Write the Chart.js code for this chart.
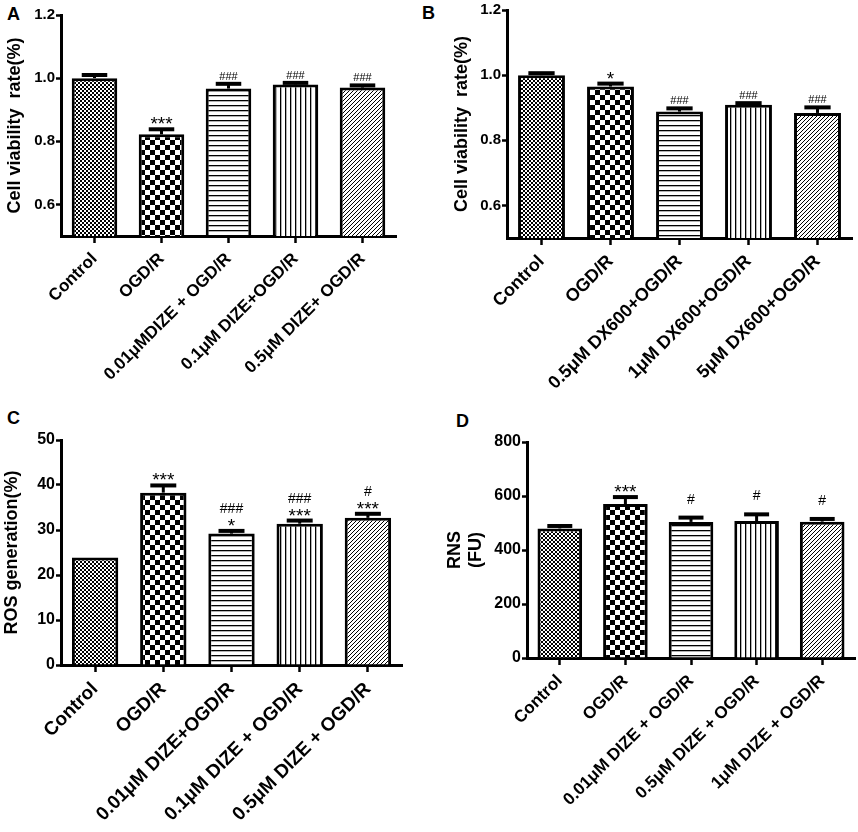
<!DOCTYPE html>
<html>
<head>
<meta charset="utf-8">
<script src="https://cdn.jsdelivr.net/npm/chart.js@4.4.1/dist/chart.umd.min.js"></script>
<style>
    body { margin: 0; background: #fff; width: 858px; height: 832px; position: relative; overflow: hidden; }
    .panel { position: absolute; }
    .letter { position: absolute; font: bold 18px "Liberation Sans", Arial, sans-serif; line-height: 1; color: #000; }
</style>
</head>
<body>
<div class="letter" style="left:7px;top:5px">A</div>
<div class="letter" style="left:422px;top:4px">B</div>
<div class="letter" style="left:7px;top:409px">C</div>
<div class="letter" style="left:456px;top:412px">D</div>

<canvas id="chartA" class="panel" style="left:0;top:0" width="410" height="415"></canvas>
<canvas id="chartB" class="panel" style="left:425px;top:0" width="433" height="415"></canvas>
<canvas id="chartC" class="panel" style="left:0;top:425px" width="415" height="407"></canvas>
<canvas id="chartD" class="panel" style="left:425px;top:425px" width="433" height="407"></canvas>

<script>
// Panel A - DIZE, cell viability
const labelsA = ['Control', 'OGD/R', '0.01μMDIZE + OGD/R', '0.1μM DIZE+OGD/R', '0.5μM DIZE+ OGD/R'];
const valuesA = [1.0, 0.822, 0.967, 0.980, 0.970];
const semA = [0.010, 0.016, 0.015, 0.005, 0.007];
const marksA = [[], ['***'], ['###'], ['###'], ['###']];
const ticksA = [0.6, 0.8, 1.0, 1.2];

// Panel B - DX600, cell viability
const labelsB = ['Control', 'OGD/R', '0.5μM DX600+OGD/R', '1μM DX600+OGD/R', '5μM DX600+OGD/R'];
const valuesB = [1.0, 0.965, 0.888, 0.909, 0.884];
const semB = [0.006, 0.009, 0.010, 0.005, 0.017];
const marksB = [[], ['*'], ['###'], ['###'], ['###']];
const ticksB = [0.6, 0.8, 1.0, 1.2];

// Panel C - ROS generation
const labelsC = ['Control', 'OGD/R', '0.01μM DIZE+OGD/R', '0.1μM DIZE + OGD/R', '0.5μM DIZE + OGD/R'];
const valuesC = [23.9, 38.3, 29.2, 31.4, 32.7];
const semC = [0, 1.6, 0.6, 0.7, 0.9];
const marksC = [[], ['***'], ['###', '*'], ['###', '***'], ['#', '***']];
const ticksC = [0, 10, 20, 30, 40, 50];

// Panel D - RNS
const labelsD = ['Control', 'OGD/R', '0.01μM DIZE + OGD/R', '0.5μM DIZE + OGD/R', '1μM DIZE + OGD/R'];
const valuesD = [480, 570, 504, 507, 505];
const semD = [9, 26, 16, 25, 10];
const marksD = [[], ['***'], ['#'], ['#'], ['#']];
const ticksD = [0, 200, 400, 600, 800];

const FONT = '"Liberation Sans", Arial, sans-serif';

// fill patterns, one per group
function makePattern(size, draw) {
    const c = document.createElement('canvas');
    c.width = size;
    c.height = size;
    const g = c.getContext('2d');
    g.fillStyle = '#fff';
    g.fillRect(0, 0, size, size);
    g.fillStyle = '#000';
    g.strokeStyle = '#000';
    draw(g, size);
    return g.createPattern(c, 'repeat');
}

const patterns = [
    makePattern(4, (g) => { g.fillRect(0, 0, 2, 2); g.fillRect(2, 2, 2, 2); }),
    makePattern(10, (g) => { g.fillRect(0, 0, 5, 5); g.fillRect(5, 5, 5, 5); }),
    makePattern(5, (g) => { g.fillRect(0, 0, 5, 1.3); }),
    makePattern(5, (g) => { g.fillRect(0, 0, 1.3, 5); }),
    makePattern(4, (g, s) => {
        g.lineWidth = 1;
        g.beginPath();
        g.moveTo(0, s); g.lineTo(s, 0);
        g.moveTo(-1, 1); g.lineTo(1, -1);
        g.moveTo(s - 1, s + 1); g.lineTo(s + 1, s - 1);
        g.stroke();
    })
];

// error bars (upper only) and significance marks
const errorBarPlugin = {
    id: 'errorBars',
    afterDatasetsDraw(chart) {
        const cfg = chart.options.plugins.errorBars;
        const ctx = chart.ctx;
        const yScale = chart.scales.y;
        const meta = chart.getDatasetMeta(0);
        const values = chart.data.datasets[0].data;
        ctx.save();
        ctx.strokeStyle = '#000';
        ctx.fillStyle = '#000';
        meta.data.forEach((bar, i) => {
            const top = yScale.getPixelForValue(values[i] + cfg.sem[i]);
            const half = bar.width * 0.28;
            if (cfg.sem[i] > 0) {
                ctx.lineWidth = 3;
                ctx.beginPath();
                ctx.moveTo(bar.x, bar.y);
                ctx.lineTo(bar.x, top);
                ctx.stroke();
                ctx.lineWidth = 4;
                ctx.beginPath();
                ctx.moveTo(bar.x - half, top);
                ctx.lineTo(bar.x + half, top);
                ctx.stroke();
            }
            const lines = cfg.marks[i];
            let y = top - 2;
            for (let k = lines.length - 1; k >= 0; k--) {
                const txt = lines[k];
                const isHash = txt.indexOf('#') >= 0;
                ctx.font = (isHash ? cfg.hashSize : cfg.starSize) + 'px ' + FONT;
                ctx.textAlign = 'center';
                ctx.textBaseline = 'alphabetic';
                const base = isHash ? y - cfg.hashGap : y + 3;
                ctx.fillText(txt, bar.x, base);
                y = base - cfg.lineGap + (isHash ? 0 : 3);
            }
        });
        ctx.restore();
    }
};

function makeChart(id, opts) {
    const ctx = document.getElementById(id).getContext('2d');
    return new Chart(ctx, {
        type: 'bar',
        data: {
            labels: opts.labels,
            datasets: [{
                data: opts.values,
                backgroundColor: patterns,
                borderColor: '#000',
                borderWidth: 3,
                barPercentage: 0.68,
                categoryPercentage: 1,
                base: opts.min
            }]
        },
        options: {
            responsive: false,
            animation: false,
            layout: { padding: { top: opts.padTop, right: opts.padRight, left: 0, bottom: 0 } },
            plugins: {
                legend: { display: false },
                tooltip: { enabled: false },
                errorBars: {
                    sem: opts.sem,
                    marks: opts.marks,
                    starSize: opts.starSize,
                    hashSize: opts.hashSize,
                    hashGap: opts.hashGap,
                    lineGap: opts.lineGap
                }
            },
            scales: {
                x: {
                    grid: { display: true, drawOnChartArea: false, drawTicks: true, tickLength: 7, tickWidth: 2.5, tickColor: '#000', offset: false },
                    border: { display: true, color: '#000', width: 3 },
                    ticks: {
                        color: '#000',
                        font: { family: FONT, size: opts.labelSize, weight: 'bold' },
                        maxRotation: 45,
                        minRotation: 45,
                        autoSkip: false,
                        padding: 6
                    },
                    afterFit: (s) => { s.height = opts.xHeight; }
                },
                y: {
                    min: opts.min,
                    max: opts.max,
                    grid: { display: true, drawOnChartArea: false, drawTicks: true, tickLength: 5, tickWidth: 2.5, tickColor: '#000' },
                    border: { display: true, color: '#000', width: 3 },
                    ticks: {
                        color: '#000',
                        font: { family: FONT, size: opts.tickSize, weight: 'bold' },
                        padding: 1,
                        callback: opts.format
                    },
                    afterBuildTicks: (s) => { s.ticks = opts.ticks.map(v => ({ value: v })); },
                    title: {
                        display: true,
                        text: opts.title,
                        color: '#000',
                        font: { family: FONT, size: 18, weight: 'bold', lineHeight: 1.2 },
                        padding: { top: opts.titlePad, bottom: 0 }
                    },
                    afterFit: (s) => { s.width = opts.yWidth; }
                }
            }
        },
        plugins: [errorBarPlugin]
    });
}

makeChart('chartA', {
    labels: labelsA, values: valuesA, sem: semA, marks: marksA, ticks: ticksA,
    min: 0.5, max: 1.2, format: (v) => v.toFixed(1),
    title: 'Cell viability  rate(%)', titlePad: 4,
    yWidth: 61, xHeight: 179, padTop: 15, padRight: 14,
    labelSize: 17, tickSize: 15, starSize: 19, hashSize: 11, hashGap: 2, lineGap: 18
});

makeChart('chartB', {
    labels: labelsB, values: valuesB, sem: semB, marks: marksB, ticks: ticksB,
    min: 0.5, max: 1.2, format: (v) => v.toFixed(1),
    title: 'Cell viability  rate(%)', titlePad: 26,
    yWidth: 82, xHeight: 177, padTop: 9, padRight: 6,
    labelSize: 18, tickSize: 15, starSize: 19, hashSize: 11, hashGap: 2, lineGap: 18
});

makeChart('chartC', {
    labels: labelsC, values: valuesC, sem: semC, marks: marksC, ticks: ticksC,
    min: 0, max: 50, format: (v) => String(v),
    title: 'ROS generation(%)', titlePad: 1,
    yWidth: 61, xHeight: 167, padTop: 15, padRight: 13,
    labelSize: 19, tickSize: 16, starSize: 19, hashSize: 14, hashGap: 2, lineGap: 20
});

makeChart('chartD', {
    labels: labelsD, values: valuesD, sem: semD, marks: marksD, ticks: ticksD,
    min: 0, max: 800, format: (v) => String(v),
    title: ['RNS', '(FU)'], titlePad: 19,
    yWidth: 102, xHeight: 174, padTop: 17, padRight: 3,
    labelSize: 17, tickSize: 16, starSize: 19, hashSize: 14, hashGap: 12, lineGap: 20
});
</script>
</body>
</html>
